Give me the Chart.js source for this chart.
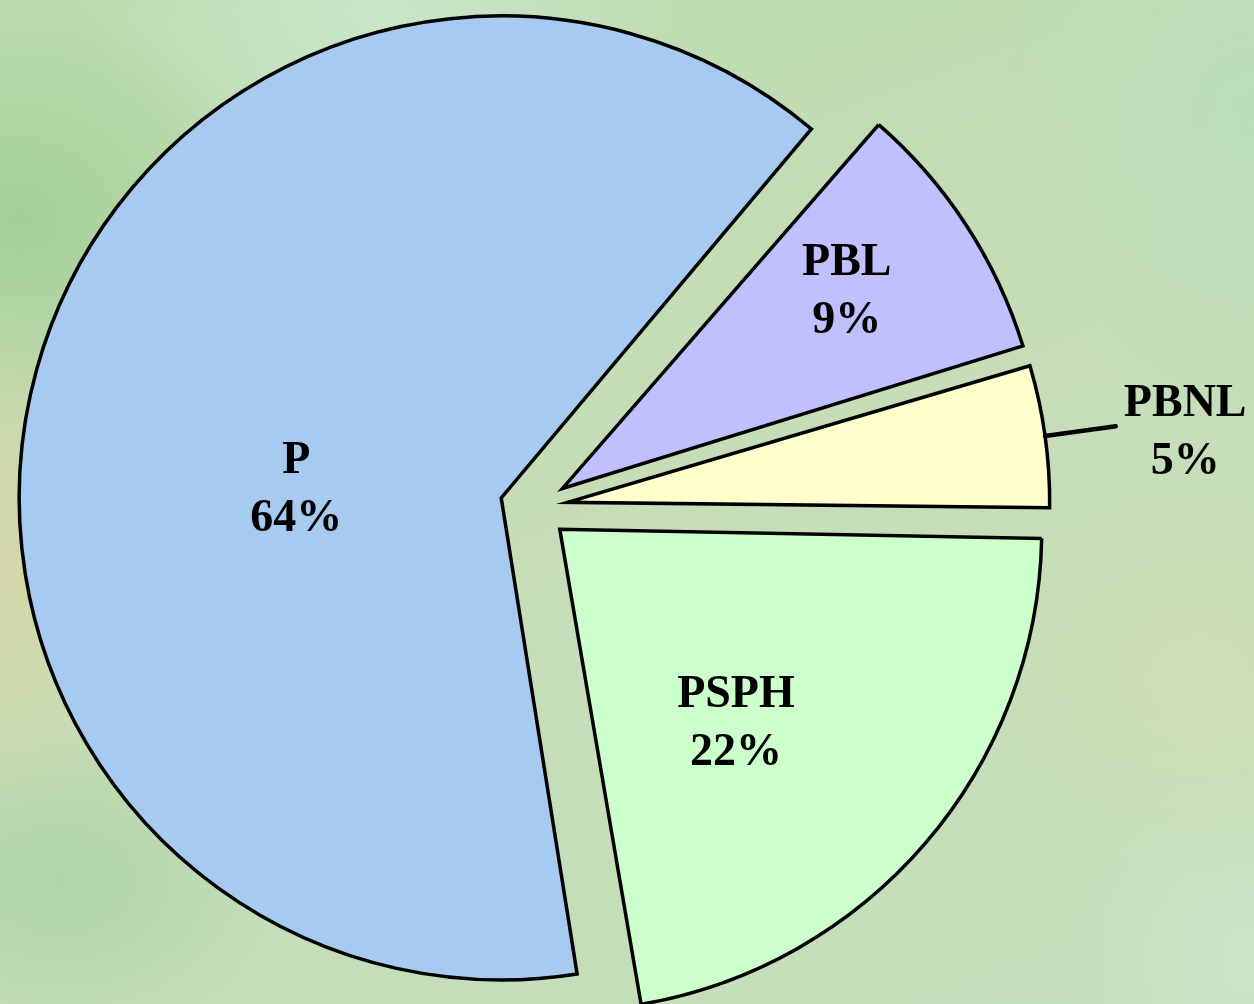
<!DOCTYPE html>
<html>
<head>
<meta charset="utf-8">
<script src="https://cdn.jsdelivr.net/npm/chart.js@4/dist/chart.umd.min.js"></script>
<style>
  html, body { margin: 0; padding: 0; }
  body {
    width: 1254px; height: 1004px; overflow: hidden;
    background-color: #c2dcb6;
    background-image:
      radial-gradient(ellipse 180px 260px at 0px 560px, rgba(216, 214, 166, 0.85), rgba(216, 214, 166, 0) 100%),
      radial-gradient(ellipse 260px 220px at 20px 220px, rgba(150, 200, 140, 0.7), rgba(150, 200, 140, 0) 100%),
      radial-gradient(ellipse 300px 200px at 380px 10px, rgba(205, 232, 208, 0.8), rgba(205, 232, 208, 0) 100%),
      radial-gradient(ellipse 260px 300px at 1254px 120px, rgba(185, 222, 190, 0.7), rgba(185, 222, 190, 0) 100%),
      radial-gradient(ellipse 240px 200px at 1200px 680px, rgba(212, 222, 180, 0.7), rgba(212, 222, 180, 0) 100%),
      radial-gradient(ellipse 200px 200px at 1254px 960px, rgba(206, 230, 206, 0.8), rgba(206, 230, 206, 0) 100%),
      radial-gradient(ellipse 220px 160px at 60px 880px, rgba(160, 205, 160, 0.6), rgba(160, 205, 160, 0) 100%),
      linear-gradient(160deg, #bcdcb0 0%, #c6ddb8 50%, #c4dfbc 100%);
  }
  #wrap { position: absolute; left: 0; top: 0; width: 1254px; height: 1004px; }
</style>
</head>
<body>
<div id="wrap"><canvas id="pie"></canvas></div>
<script>
const labels = ['P', 'PBL', 'PBNL', 'PSPH'];
const shares = [64, 9, 5, 22];
const sliceColors = ['#A6CAF0', '#C0C0FF', '#FFFFCC', '#CCFFCC'];

// label placement: fraction of radius along slice middle, plus small angle nudge (deg)
const labelDist = [0.426, 0.72, 1.29, 0.54];
const labelTurn = [-12.4, -1.9, 1.2, 6.7];
const leaderFor = [false, false, true, false];

const RADIUS = 482;
const EXPLODE = 136; // chart.js moves a slice by offset/4

// chart.js grows exploded slices by a fudge factor; undo it so all rims match
const evenRadius = {
  id: 'evenRadius',
  beforeDatasetDraw(chart, args) {
    const base = args.meta.controller.outerRadius;
    args.meta.data.forEach(arc => {
      const o = (arc.options.offset || 0) / 4;
      const fix = 1 - Math.sin(Math.min(Math.PI, arc.circumference));
      arc.outerRadius = base - o * fix;
    });
  }
};

const sliceLabels = {
  id: 'sliceLabels',
  afterDatasetsDraw(chart) {
    const ctx = chart.ctx;
    const meta = chart.getDatasetMeta(0);
    const base = meta.controller.outerRadius;
    ctx.save();
    ctx.font = 'bold 46px "Liberation Serif", "Times New Roman", serif';
    ctx.fillStyle = '#000';
    ctx.textAlign = 'center';
    ctx.textBaseline = 'alphabetic';
    meta.data.forEach((arc, i) => {
      const mid = (arc.startAngle + arc.endAngle) / 2;
      const o = (arc.options.offset || 0) / 4;
      const cx = arc.x + Math.cos(mid) * o;
      const cy = arc.y + Math.sin(mid) * o;

      if (leaderFor[i]) {
        ctx.beginPath();
        ctx.lineWidth = 4.5;
        ctx.lineCap = 'round';
        ctx.strokeStyle = '#000';
        ctx.moveTo(cx + Math.cos(mid) * base, cy + Math.sin(mid) * base);
        ctx.lineTo(cx + Math.cos(mid) * base * 1.148, cy + Math.sin(mid) * base * 1.148);
        ctx.stroke();
      }

      const a = mid + labelTurn[i] * Math.PI / 180;
      const lx = cx + Math.cos(a) * base * labelDist[i];
      const ly = cy + Math.sin(a) * base * labelDist[i];
      ctx.fillText(labels[i], lx, ly - 14);
      ctx.fillText(shares[i] + '%', lx, ly + 44);
    });
    ctx.restore();
  }
};

new Chart(document.getElementById('pie'), {
  type: 'pie',
  data: {
    labels: labels,
    datasets: [{
      data: shares,
      backgroundColor: sliceColors,
      borderColor: '#000',
      borderWidth: 3.5,
      borderJoinStyle: 'miter',
      offset: EXPLODE
    }]
  },
  options: {
    responsive: true,
    maintainAspectRatio: false,
    animation: false,
    events: [],
    rotation: 170.3,
    radius: RADIUS,
    layout: { padding: { left: 0, right: 186, top: 10, bottom: 0 } },
    plugins: {
      legend: { display: false },
      tooltip: { enabled: false }
    }
  },
  plugins: [evenRadius, sliceLabels]
});
</script>
</body>
</html>
